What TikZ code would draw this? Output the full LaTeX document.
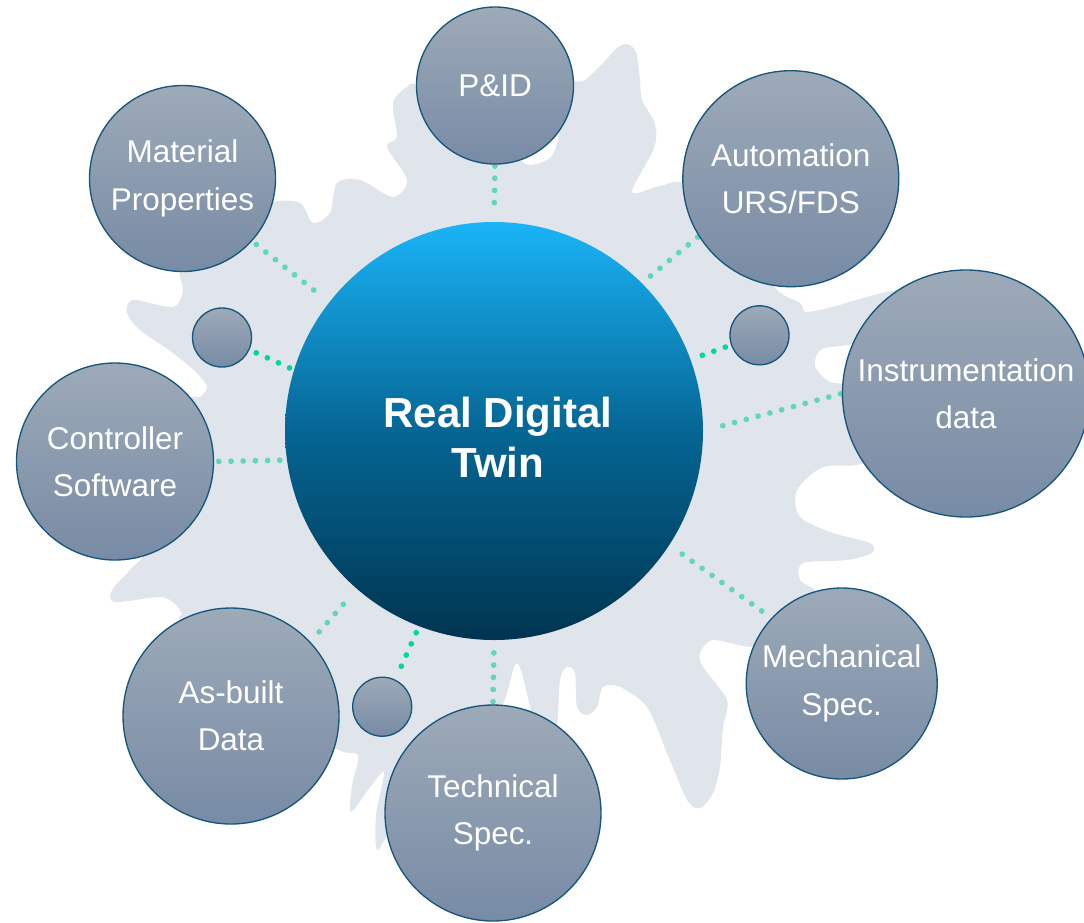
\documentclass[tikz,border=0pt]{standalone}
\usepackage{fontspec}
\setmainfont{Liberation Sans}
\definecolor{splash}{RGB}{223,229,235}
\definecolor{satTop}{RGB}{157,170,184}
\definecolor{satBot}{RGB}{120,139,165}
\definecolor{satEdge}{RGB}{22,86,124}
\definecolor{coreTop}{RGB}{26,180,248}
\definecolor{coreMid}{RGB}{5,102,148}
\definecolor{coreBot}{RGB}{0,52,80}
\definecolor{dotSoft}{RGB}{96,214,186}
\definecolor{dotBright}{RGB}{0,214,160}
\pgfdeclarelayer{bg}
\pgfdeclarelayer{links}
\pgfsetlayers{bg,links,main}
\begin{document}
\begin{tikzpicture}[x=0.75pt,y=-0.75pt,
  sat/.style={circle, draw=satEdge, line width=1pt, top color=satTop, bottom color=satBot,
    inner sep=0pt, text=white, align=center,
    font=\fontsize{23.6pt}{35.5pt}\selectfont, minimum size=#1},
  dotline/.style={draw=#1, line width=4.3pt, line cap=round, dash pattern=on 0pt off 9.15pt},
]
\useasboundingbox (0,0) rectangle (1084,922);

% central hub
\node[circle, minimum size=313.5pt, inner sep=0pt,
      top color=coreTop, bottom color=coreBot, middle color=coreMid] (rdt) at (494,431) {};
\node[text=white, align=center, font=\bfseries\fontsize{31.5pt}{37.5pt}\selectfont]
      (rdtlabel) at (498,437) {Real Digital\\Twin};

% satellites
\node[sat=117.75pt] (pid)  at (495,85.5)  {P\&ID};
\node[sat=139.5pt]  (mat)  at (182.5,178.5) {Material\\Properties};
\node[sat=162pt]    (aut)  at (790.8,178.7) {Automation\\URS/FDS};
\node[sat=185.25pt] (ins)  at (966,393.5) {Instrumentation\\data};
\node[sat=147.75pt] (ctl)  at (115,461.5) {Controller\\Software};
\node[sat=162pt]    (asb)  at (231,716)   {As-built\\Data};
\node[sat=162pt]    (tec)  at (493,813)   {Technical\\Spec.};
\node[sat=143.25pt] (mech) at (841.7,683.5) {Mechanical\\Spec.};

% small unlabeled bubbles
\node[sat=44.25pt] (sl) at (222,337.5) {};
\node[sat=44.25pt] (sr) at (759.5,335.3) {};
\node[sat=44.25pt] (sb) at (382.2,706.7) {};

% dotted links
\begin{pgfonlayer}{links}
\draw[dotline=dotSoft, shorten <=1pt, shorten >=6pt] (pid.-90) -- (rdt.90);
\draw[dotline=dotSoft, shorten <=4pt, shorten >=6pt] (mat.-42) -- (rdt.142);
\draw[dotline=dotSoft, shorten <=1pt, shorten >=1pt] (aut.212) -- (rdt.45);
\draw[dotline=dotBright, shorten <=4.5pt, shorten >=1pt] (sr.199) -- (rdt.20);
\draw[dotline=dotSoft, shorten <=1pt, shorten >=6.5pt] (ins.180) -- (rdt.0);
\draw[dotline=dotSoft, shorten <=9pt, shorten >=4pt] (mech.137) -- (rdt.-33);
\draw[dotline=dotSoft, shorten <=2pt, shorten >=1pt] (tec.90) -- (rdt.-90);
\draw[dotline=dotBright, shorten <=11pt, shorten >=5pt] (sb.64) -- (rdt.249.5);
\draw[dotline=dotSoft, shorten <=10pt, shorten >=7pt] (asb.43.5) -- (rdt.229);
\draw[dotline=dotSoft, shorten <=3.5pt, shorten >=5pt] (ctl.0) -- (rdt.188);
\draw[dotline=dotBright, shorten <=5.5pt, shorten >=3.5pt] (sl.-24) -- (rdt.163);
\end{pgfonlayer}

% splash backdrop
\begin{pgfonlayer}{bg}
\fill[splash] plot[smooth cycle, tension=0.5] coordinates {
  (627,44) (636,52) (640,80) (642,100) (655,124) (654,148) (632,192) (660,186) (688,185)
  (740,240) (776,289) (800,303) (806,312) (832,307) (903,290) (925,320) (858,343)
  (822,349) (815,366) (830,382) (858,388) (880,430) (863,463) (823,467) (797,490)
  (800,517) (833,533) (870,543) (872,553) (847,560) (803,563) (800,580) (817,595)
  (805,640) (753,647) (713,640) (700,653) (703,667) (727,700) (723,727) (720,767)
  (713,793) (700,808) (687,800) (667,753) (647,707) (620,687) (603,687) (597,707)
  (587,715) (577,707) (575,673) (567,667) (560,680) (556,730) (540,745) (532,715)
  (517,663) (500,710) (450,770) (392,830) (377,850) (376,815) (384,772) (368,790)
  (351,812) (352,785) (358,755) (335,748) (250,690) (183,624) (182,614) (175,604)
  (160,597) (115,602) (112,590) (130,570) (150,545) (170,470) (188,402) (200,397)
  (207,387) (197,373) (173,353) (140,330) (127,313) (133,300) (173,307) (183,290)
  (180,268) (200,220) (272,202) (300,203) (313,223) (330,213) (337,183) (360,180)
  (393,197) (407,180) (387,147) (397,137) (393,103) (407,87) (420,88) (480,150)
  (515,158) (530,165) (550,158) (558,140) (560,120) (570,85) (585,80) (603,63) (617,48)
};
\end{pgfonlayer}
\end{tikzpicture}
\end{document}
